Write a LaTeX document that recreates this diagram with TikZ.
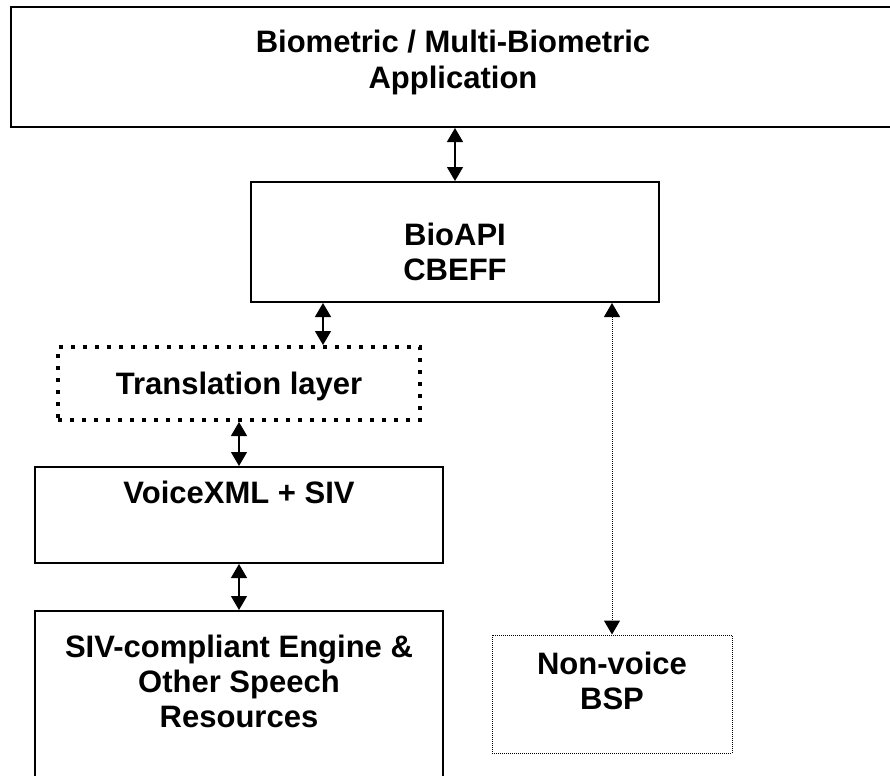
\documentclass[tikz,border=0pt]{standalone}
\usepackage{fontspec}
\setmainfont{Liberation Sans}
\usetikzlibrary{positioning,arrows.meta,fit,calc}

\tikzset{
  layer/.style={draw,line width=1pt,inner sep=0pt},
  bridge/.style={draw,line width=2pt,dash pattern=on 2pt off 4pt,inner sep=0pt},
  plugin/.style={draw,line width=0.5pt,dash pattern=on 0.5pt off 0.5pt,inner sep=0pt},
  caption/.style={font=\fontsize{15.5}{17.5}\selectfont\bfseries,align=center,inner sep=0pt,anchor=base},
  link/.style={{Triangle[width=8pt,length=7pt]}-{Triangle[width=8pt,length=7pt]},line width=0.7pt},
}

\begin{document}
\begin{tikzpicture}[x=0.5pt,y=-0.5pt]
        \useasboundingbox (0,0) rectangle (890,776);
        % layers
        \node[layer,fit={(11,7) (897,127)}] (app) {};
        \node[layer,fit={(251,182) (659,302)}] (bio) {};
        \node[bridge,fit={(58,347) (420,420)}] (trans) {};
        \node[layer,fit={(35,467) (443,563)}] (voice) {};
        \node[layer,fit={(35,611) (443,790)}] (engine) {};
        \node[plugin,fit={(492,635) (732,753)}] (bsp) {};
        % captions (anchored on the last line)
        \node[caption] (apptext) at (453,88) {Biometric / Multi-Biometric\\Application};
        \node[caption] (biotext) at (455,280) {BioAPI\\CBEFF};
        \node[caption] (transtext) at (239,394) {Translation layer};
        \node[caption] (voicetext) at (239,503) {VoiceXML + SIV};
        \node[caption] (enginetext) at (239,727) {SIV-compliant Engine \&\\Other Speech\\Resources};
        \node[caption] (bsptext) at (612,709) {Non-voice\\BSP};
        % links
        \coordinate (tap) at ($(trans.north)+(84,0)$);
        \draw[link] (app.south -| bio.north) -- (bio.north);
        \draw[link] (bio.south -| tap) -- (tap);
        \draw[link] (trans.south) -- (voice.north -| trans.south);
        \draw[link] (voice.south) -- (engine.north);
        \draw[link,line width=0.5pt,dash pattern=on 0.5pt off 0.5pt] (bio.south -| bsp.north) -- (bsp.north);
      \end{tikzpicture}
\end{document}
